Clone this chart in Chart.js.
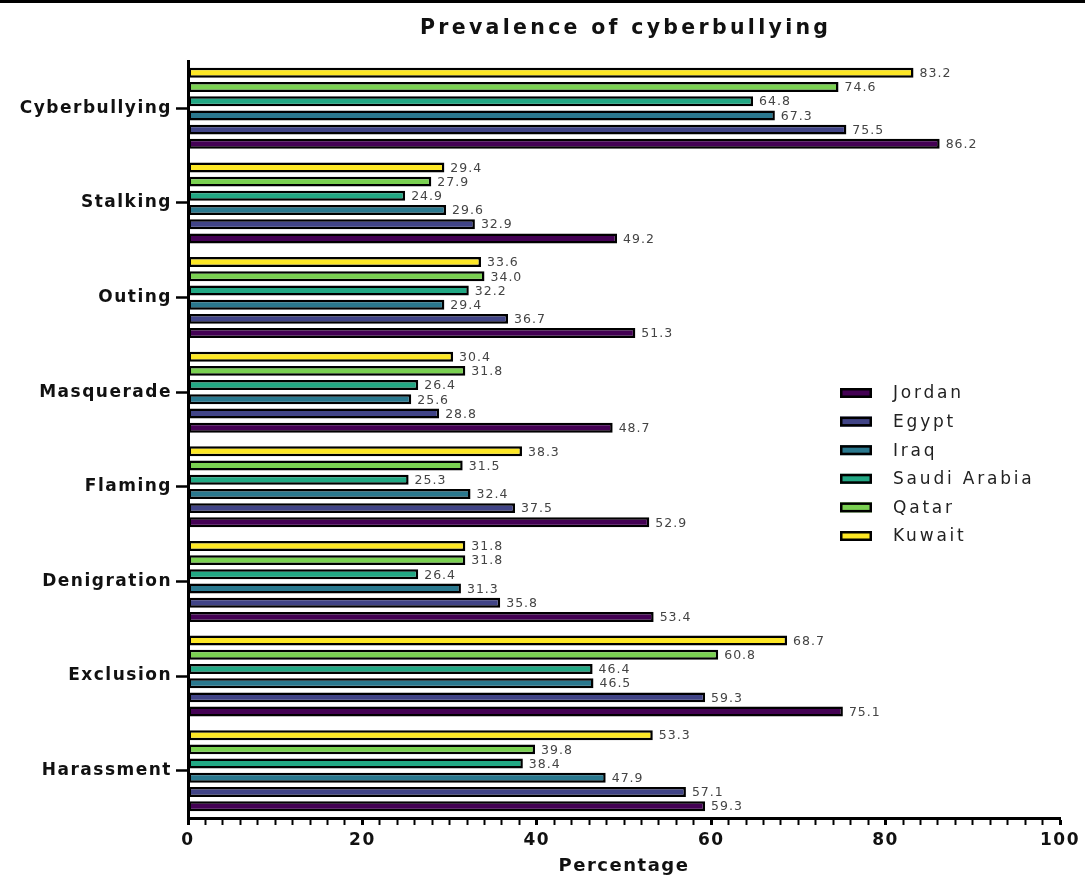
<!DOCTYPE html>
<html>
<head>
<meta charset="utf-8">
<script src="https://cdn.jsdelivr.net/npm/chart.js@4"></script>
<style>
html,body{margin:0;padding:0;background:#fff;}
#wrap{position:relative;width:1085px;height:877px;}
#topline{position:absolute;left:0;top:0;width:1085px;height:3px;background:#000;}
canvas{display:block;}
</style>
</head>
<body>
<div id="wrap">
<canvas id="c" width="1085" height="877"></canvas>
<div id="topline"></div>
</div>
<script>
const chartTitle = 'Prevalence of cyberbullying';
const axisTitle = 'Percentage';
const categories = ['Cyberbullying','Stalking','Outing','Masquerade','Flaming','Denigration','Exclusion','Harassment'];
const countries = ['Jordan','Egypt','Iraq','Saudi Arabia','Qatar','Kuwait'];
const colors = ['#440154','#414487','#2A788E','#22A884','#7AD151','#FDE725'];
const jordan = [86.2,49.2,51.3,48.7,52.9,53.4,75.1,59.3];
const egypt  = [75.5,32.9,36.7,28.8,37.5,35.8,59.3,57.1];
const iraq   = [67.3,29.6,29.4,25.6,32.4,31.3,46.5,47.9];
const saudi  = [64.8,24.9,32.2,26.4,25.3,26.4,46.4,38.4];
const qatar  = [74.6,27.9,34.0,31.8,31.5,31.8,60.8,39.8];
const kuwait = [83.2,29.4,33.6,30.4,38.3,31.8,68.7,53.3];
const seriesValues = [jordan, egypt, iraq, saudi, qatar, kuwait];
const xTickStep = 2;
const xMajorStep = 20;

const FONT = '"DejaVu Sans", "Liberation Sans", Arial, sans-serif';

// datasets ordered top-to-bottom within each group (Kuwait at top, Jordan at bottom)
const datasets = countries.map((name, i) => ({
  label: name,
  data: seriesValues[i],
  backgroundColor: colors[i],
  borderColor: '#000',
  borderWidth: 2.5,
  borderSkipped: false,
  barPercentage: 0.7,
  categoryPercentage: 0.9
})).reverse();

const spacingPlugin = {
  id: 'spacing',
  beforeLayout(chart){ chart.ctx.letterSpacing = '1.5px'; },
  beforeDraw(chart){ chart.ctx.letterSpacing = '1.5px'; }
};

const extrasPlugin = {
  id: 'extras',
  afterDatasetsDraw(chart){
    const ctx = chart.ctx;
    ctx.save();
    ctx.letterSpacing = '1px';
    ctx.font = '12.5px ' + FONT;
    ctx.fillStyle = '#444';
    ctx.textAlign = 'left';
    ctx.textBaseline = 'middle';
    chart.data.datasets.forEach((ds, di) => {
      const meta = chart.getDatasetMeta(di);
      meta.data.forEach((bar, j) => {
        ctx.fillText(Number(ds.data[j]).toFixed(1), bar.x + 6, bar.y + 1);
      });
    });
    ctx.restore();
  },
  afterDraw(chart){
    const ctx = chart.ctx;
    const a = chart.chartArea;
    ctx.save();
    // title
    ctx.letterSpacing = '3.3px';
    ctx.font = 'bold 20.5px ' + FONT;
    ctx.fillStyle = '#111';
    ctx.textAlign = 'center';
    ctx.textBaseline = 'alphabetic';
    ctx.fillText(chartTitle, (a.left + a.right) / 2 + 1.65, 34);
    // legend (Jordan first)
    ctx.letterSpacing = '2.8px';
    ctx.font = '17px ' + FONT;
    ctx.textAlign = 'left';
    ctx.textBaseline = 'middle';
    const lx = a.left + 652;
    const ly0 = a.top + 332;
    const step = 28.6;
    countries.forEach((name, i) => {
      const y = ly0 + i * step;
      ctx.fillStyle = colors[i];
      ctx.fillRect(lx, y - 5, 32, 10);
      ctx.lineWidth = 2.5;
      ctx.strokeStyle = '#000';
      ctx.strokeRect(lx + 1.25, y - 3.75, 29.5, 7.5);
      ctx.fillStyle = '#222';
      ctx.fillText(name, lx + 53, y + 1);
    });
    ctx.restore();
  }
};

new Chart(document.getElementById('c'), {
  type: 'bar',
  data: { labels: categories, datasets: datasets },
  options: {
    responsive: false,
    animation: false,
    indexAxis: 'y',
    layout: { padding: { top: 61, right: 22, bottom: 0, left: 0 } },
    plugins: { legend: { display: false }, tooltip: { enabled: false }, title: { display: false } },
    scales: {
      y: {
        type: 'category',
        afterFit(s){ s.width = 188; },
        grid: { display: true, drawOnChartArea: false, drawTicks: true, tickLength: 12, tickColor: '#000', tickWidth: 2.5, offset: false },
        border: { display: true, color: '#000', width: 3 },
        ticks: { color: '#111', padding: 4, font: { family: FONT, size: 17, weight: 'bold' } }
      },
      x: {
        type: 'linear',
        min: 0, max: 100,
        afterFit(s){ s.height = 59; },
        grid: { display: true, drawOnChartArea: false, drawTicks: true, tickLength: 7, tickColor: '#000',
                tickWidth: (c) => (c.tick && c.tick.value % xMajorStep === 0) ? 3 : 2 },
        border: { display: true, color: '#000', width: 3 },
        ticks: {
          stepSize: xTickStep, maxTicksLimit: 60, autoSkip: false, maxRotation: 0, minRotation: 0,
          padding: 5, color: '#111',
          font: { family: FONT, size: 17, weight: 'bold' },
          callback: (v) => (v % xMajorStep === 0 ? String(v) : '')
        },
        title: { display: true, text: axisTitle, color: '#111', padding: { top: 0, bottom: 0 },
                 font: { family: FONT, size: 18, weight: 'bold' } }
      }
    }
  },
  plugins: [spacingPlugin, extrasPlugin]
});
</script>
</body>
</html>
